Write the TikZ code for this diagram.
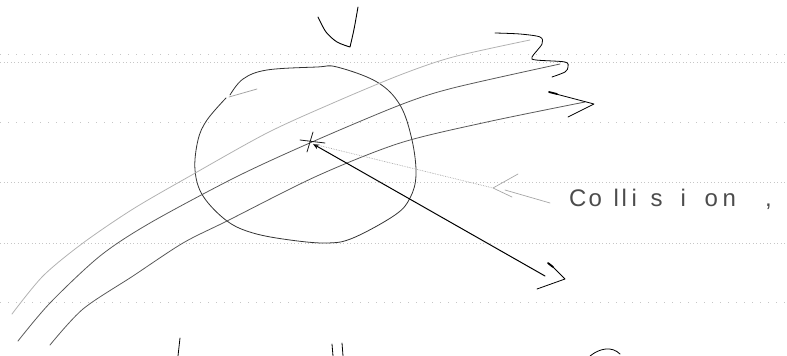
\documentclass[tikz,border=0pt]{standalone}
\usepackage{fontspec}
\setmainfont{Liberation Sans}
\usetikzlibrary{arrows.meta}
\begin{document}
\begin{tikzpicture}[x=1pt,y=-1pt,
  ruled/.style={gray!45,line width=0.5pt,dash pattern=on 1pt off 2.5pt},
  sparse/.style={gray!45,line width=0.5pt,dash pattern=on 1pt off 7pt},
  pen/.style={line width=0.8pt,line cap=round,line join=round},
  track/.style={pen,gray!70!black},
  lighttrack/.style={pen,gray!60},
  ink/.style={pen,black}]
\useasboundingbox (0,0) rectangle (787,356);
% ruled paper lines
\draw[sparse] (0,54) -- (787,54);
\draw[ruled] (0,62) -- (787,62);
\draw[sparse] (0,122) -- (787,122);
\draw[ruled] (0,182) -- (787,182);
\draw[ruled] (0,243) -- (787,243);
\draw[sparse] (0,302) -- (787,302);
% V mark
\draw[ink,line width=0.9pt] plot[smooth] coordinates {(318,17) (326,32) (337,42) (350,47)}
  .. controls (354,30) .. (358,7);
% circle (region)
\draw[pen,gray!40!black] plot[smooth,tension=0.6] coordinates {(230,95) (243,79) (267,70) (317,67) (337,67) (377,82) (400,105) (412,140) (416,175) (410,198) (395,215) (353,238) (327,243) (290,240) (253,233) (227,221) (203,196) (195,170) (198,140) (207,120) (226,98)};
\draw[pen,gray!70] (229,97) -- (257,89);
% trajectories
\draw[lighttrack] plot[smooth] coordinates {(12,314) (43,276) (83,243) (133,209) (190,176) (267,133) (333,103) (400,75) (453,57) (530,40)};
\draw[track] plot[smooth] coordinates {(18,341) (50,303) (100,256) (150,223) (236,177) (312,142) (400,105) (453,88) (560,64)};
\draw[track] plot[smooth] coordinates {(50,345) (83,309) (133,276) (183,243) (227,221) (317,176) (400,143) (487,122) (585,102)};
% squiggle arrowhead of top two tracks
\draw[ink] plot[smooth,tension=0.5] coordinates {(495,33) (520,34) (540,37) (542,44) (532,57) (536,60) (565,62) (568,67) (565,72) (552,77)};
% lower track arrowhead
\draw[ink,line width=1.8pt] (549,92) -- (557,94);
\draw[ink] (556,94) -- (594,104) -- (568,117);
% collision point
\coordinate (hit) at (313,144);
\draw[ink,gray!20!black] (313,132) -- (307,152);
\draw[ink,gray!20!black] (300,140) -- (325,143);
\coordinate (outend) at (545,276);
\draw[ink,line width=1pt,{Stealth[length=6pt,width=5pt]}-] (hit) -- (outend);
\draw[ink,line width=1.8pt] (548,263) -- (553,267);
\draw[ink] (553,267) -- (565,279) -- (537,289);
% pointer to collision
\coordinate (chev) at (493,188);
\draw[gray!70,line width=0.7pt,densely dotted] (hit) -- (chev);
\draw[pen,gray!70,line width=0.7pt] (518,174) -- (chev) -- (512,197);
\draw[pen,gray!70,line width=0.7pt] (505,190) -- (550,203);
\node[anchor=base west,inner sep=0pt,font=\fontsize{24}{26}\selectfont,text=gray!60!black] (lbl) at (569,206)
  {C\kern2pt o\kern11.7pt l\kern2.7pt l\kern4.7pt i\kern13.7pt s\kern18pt i\kern18.7pt o\kern4.7pt n\kern29pt ,};
% bottom marks
\draw[ink] (180,338) -- (178,356);
\draw[ink] (332,344) -- (333,356);
\draw[ink] (342,343) -- (343,356);
\draw[ink] (590,356) .. controls (600,348) and (612,346) .. (620,354);
\end{tikzpicture}
\end{document}
